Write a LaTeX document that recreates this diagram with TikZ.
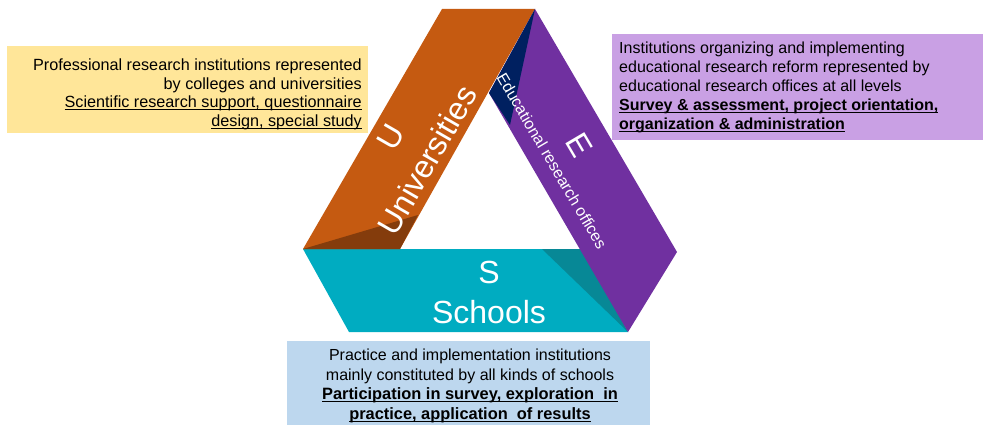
\documentclass[tikz,border=0pt]{standalone}
\usepackage{fontspec}
\setmainfont{Liberation Sans}
\newcommand{\myul}[1]{\setbox0\hbox{#1}\rlap{\rule[-2.3pt]{\wd0}{0.9pt}}\box0}
\definecolor{boxY}{HTML}{FFE699}
\definecolor{boxP}{HTML}{C9A0E4}
\definecolor{boxB}{HTML}{BDD7EE}
\definecolor{bandU}{HTML}{C55A11}
\definecolor{bandUdark}{HTML}{843C0C}
\definecolor{bandE}{HTML}{7030A0}
\definecolor{bandEdark}{HTML}{002060}
\definecolor{bandS}{HTML}{00ACC1}
\definecolor{bandSdark}{HTML}{078896}
\begin{document}
\begin{tikzpicture}[x=1pt,y=-1pt,
  body/.style={inner sep=0pt, text=black},
  big/.style={font=\fontsize{32}{38}\selectfont, text=white, inner sep=0pt}]
\useasboundingbox (0,0) rectangle (985,425);
% boxes
\fill[boxY] (7,46) rectangle (368,133);
\fill[boxP] (612,34) rectangle (983,140);
\fill[boxB] (287,341) rectangle (650,425);
% bands
\fill[bandS] (303,249) -- (583,249) -- (628,332) -- (349,332) -- cycle;
\fill[bandSdark] (542,249) -- (583,249) -- (628,332) -- cycle;
\fill[bandU] (442,9) -- (535,9) -- (400,249) -- (303,249) -- cycle;
\fill[bandUdark] (303,249) -- (418,215) -- (400,249) -- cycle;
\fill[bandE] (535,9) -- (677,252) -- (628,332) -- (489,93) -- cycle;
\fill[bandEdark] (535,9) -- (489,93) -- (510,125) -- cycle;
% band labels
\node[big, rotate=60] (u) at (391,137) {U};
\node[big, rotate=60] (uni) at (427,160) {Universities};
\node[big, rotate=-59.5] (e) at (579,145) {E};
\node[font=\fontsize{16}{18}\selectfont, text=white, inner sep=0pt, rotate=-59.5] (eoff) at (552,161) {Educational research offices};
\node[big] (s) at (489,272) {S};
\node[big] (sch) at (489,312) {Schools};
% box texts
\node[body, font=\fontsize{16.2}{18.5}\selectfont, anchor=north east, align=right] (ytext) at (362,59)
  {Professional research institutions represented\\by colleges and universities\\\myul{Scientific research support, questionnaire}\\\myul{design, special study}};
\node[body, font=\fontsize{16}{19}\selectfont, anchor=north west, align=left] (ptext) at (619,42)
  {Institutions organizing and implementing\\educational research reform represented by\\educational research offices at all levels\\\textbf{\myul{Survey \& assessment, project orientation,}}\\\textbf{\myul{organization \& administration}}};
\node[body, font=\fontsize{16}{19.5}\selectfont, anchor=north, align=center] (btext) at (470,349)
  {Practice and implementation institutions\\mainly constituted by all kinds of schools\\{\fontsize{16.4}{19.5}\selectfont\textbf{\myul{Participation in survey, exploration\ \ in}}}\\{\fontsize{16.4}{19.5}\selectfont\textbf{\myul{practice, application\ \ of results}}}};
\end{tikzpicture}
\end{document}
